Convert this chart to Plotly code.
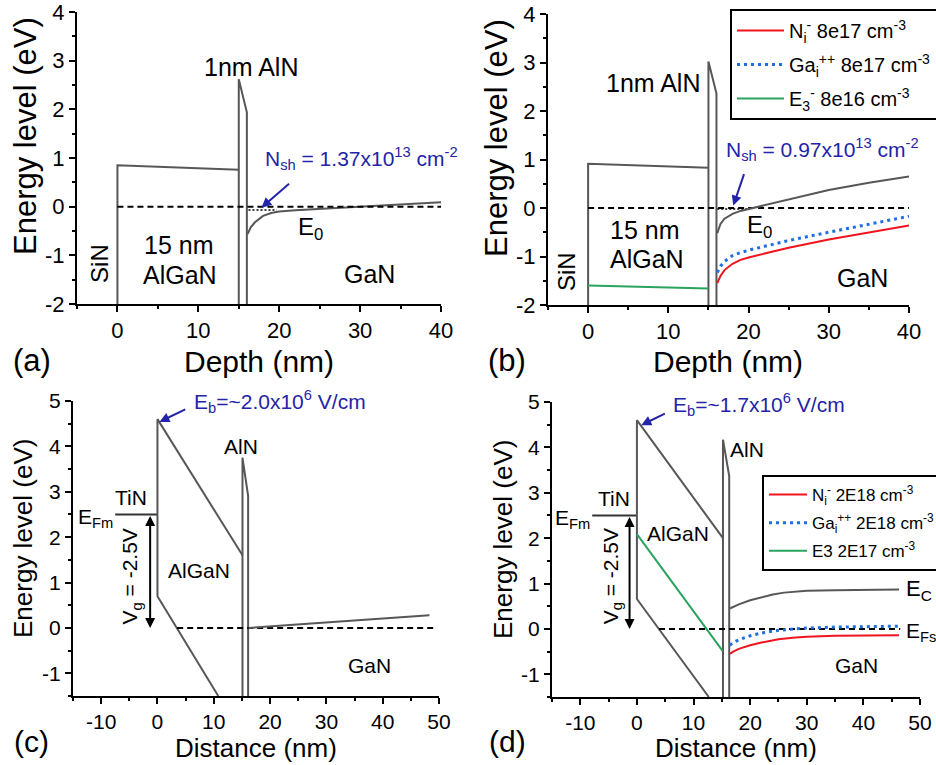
import plotly.graph_objects as go

FONT = "Liberation Sans, Arial, sans-serif"
GRAY = "#575757"
RED = "#f0141e"
BLUE = "#1f6fe0"
GREEN = "#2aa35f"
NAVY = "#2424a8"

# ---------------- data : panel (a) ----------------
a_algan_x = [0, 0, 15]
a_algan_y = [-2, 0.85, 0.76]
a_aln_x = [15, 15, 16, 16]
a_aln_y = [-2, 2.62, 1.94, -2]
a_ec_x = [16.1, 16.5, 17, 17.5, 18, 19, 20, 22, 25, 30, 35, 40]
a_ec_y = [-0.56, -0.42, -0.32, -0.25, -0.19, -0.13, -0.1, -0.075, -0.05, 0.0, 0.045, 0.09]
a_ef_x = [0, 40]
a_ef_y = [0, 0]
a_e0_x = [16.2, 19.7]
a_e0_y = [-0.07, -0.07]

# ---------------- data : panel (b) ----------------
b_algan_x = [0, 0, 15]
b_algan_y = [-2, 0.91, 0.83]
b_aln_x = [15, 15, 16, 16]
b_aln_y = [-2, 3.02, 2.36, -2]
b_ec_x = [16.1, 16.5, 17, 18, 19, 20, 21, 22, 25, 30, 35, 40]
b_ec_y = [-0.52, -0.33, -0.22, -0.12, -0.06, -0.02, 0.01, 0.05, 0.17, 0.37, 0.52, 0.65]
b_gai_x = [16.1, 16.5, 17, 18, 19, 20, 22, 25, 30, 35, 40]
b_gai_y = [-1.33, -1.2, -1.1, -0.98, -0.92, -0.87, -0.79, -0.67, -0.5, -0.33, -0.17]
b_ni_x = [16.1, 16.5, 17, 18, 19, 20, 22, 25, 30, 35, 40]
b_ni_y = [-1.55, -1.4, -1.28, -1.15, -1.07, -1.02, -0.94, -0.82, -0.65, -0.5, -0.36]
b_e3_x = [0, 15]
b_e3_y = [-1.6, -1.66]
b_ef_x = [0, 40]
b_ef_y = [0, 0]
b_e0_x = [16.1, 20.0]
b_e0_y = [-0.02, -0.02]

# ---------------- data : panel (c) ----------------
c_efm_x = [-7.5, 0]
c_efm_y = [2.5, 2.5]
c_algan_x = [10.8, 0, 0, 15.1]
c_algan_y = [-1.5, 0.7, 4.6, 1.6]
c_aln_x = [15.1, 15.1, 16.1, 16.1]
c_aln_y = [-1.5, 3.75, 2.91, -1.5]
c_ec_x = [16.2, 48.3]
c_ec_y = [0.0, 0.28]
c_efs_x = [3.5, 49.6]
c_efs_y = [0, 0]

# ---------------- data : panel (d) ----------------
d_efm_x = [-7.9, 0]
d_efm_y = [2.5, 2.5]
d_algan_x = [12.7, 0, 0, 15.2]
d_algan_y = [-1.5, 0.66, 4.6, 2.0]
d_aln_x = [15.2, 15.2, 16.3, 16.3]
d_aln_y = [-1.5, 4.17, 3.37, -1.5]
d_ec_x = [16.4, 17, 18, 20, 22, 24, 26, 28, 30, 35, 40, 46.3]
d_ec_y = [0.45, 0.49, 0.54, 0.63, 0.7, 0.76, 0.8, 0.82, 0.84, 0.85, 0.86, 0.87]
d_gai_x = [16.4, 17, 18, 20, 22, 25, 28, 30, 35, 40, 46.3]
d_gai_y = [-0.36, -0.3, -0.24, -0.15, -0.09, -0.03, 0.0, 0.02, 0.04, 0.05, 0.06]
d_ni_x = [16.4, 17, 18, 20, 22, 25, 28, 30, 35, 40, 46.3]
d_ni_y = [-0.55, -0.5, -0.44, -0.36, -0.3, -0.23, -0.19, -0.17, -0.15, -0.14, -0.14]
d_e3_x = [0, 15.1]
d_e3_y = [2.09, -0.48]
d_efs_x = [3.9, 46.5]
d_efs_y = [0, 0]

# ---------------- ticks ----------------
top_yticks = [-2, -1, 0, 1, 2, 3, 4]
top_ytext = ["-2", "-1", "0", "1", "2", "3", "4"]
top_xticks = [0, 10, 20, 30, 40]
top_xtext = ["0", "10", "20", "30", "40"]
bot_yticks = [-1, 0, 1, 2, 3, 4, 5]
bot_ytext = ["-1", "0", "1", "2", "3", "4", "5"]
bot_xticks = [-10, 0, 10, 20, 30, 40, 50]
bot_xtext = ["-10", "0", "10", "20", "30", "40", "50"]

fig = go.Figure()


def line(x, y, xa, ya, color=GRAY, width=2, dash=None, name=None, legend=None):
    kw = dict(x=x, y=y, mode="lines", xaxis=xa, yaxis=ya,
              line=dict(color=color, width=width, dash=dash),
              hoverinfo="skip", showlegend=name is not None)
    if name is not None:
        kw["name"] = name
        kw["legend"] = legend
        kw["legendgroup"] = name
    fig.add_trace(go.Scatter(**kw))


# panel a
line(a_algan_x, a_algan_y, "x", "y")
line(a_aln_x, a_aln_y, "x", "y")
line(a_ec_x, a_ec_y, "x", "y")
line(a_ef_x, a_ef_y, "x", "y", color="black", dash="6px,4px")
line(a_e0_x, a_e0_y, "x", "y", color="black", width=1.5, dash="2px,2px")

# panel b
line(b_algan_x, b_algan_y, "x2", "y2")
line(b_aln_x, b_aln_y, "x2", "y2")
line(b_ef_x, b_ef_y, "x2", "y2", color="black", dash="6px,4px")
line(b_e0_x, b_e0_y, "x2", "y2", color="black", width=1.5, dash="2px,2px")
line(b_ec_x, b_ec_y, "x2", "y2")
line(b_ni_x, b_ni_y, "x2", "y2", color=RED, name="N<sub>i</sub><sup>-</sup> 8e17 cm<sup>-3</sup>", legend="legend")
line(b_gai_x, b_gai_y, "x2", "y2", color=BLUE, width=3, dash="3px,4px",
     name="Ga<sub>i</sub><sup>++</sup> 8e17 cm<sup>-3</sup>", legend="legend")
line(b_e3_x, b_e3_y, "x2", "y2", color=GREEN, name="E<sub>3</sub><sup>-</sup> 8e16 cm<sup>-3</sup>", legend="legend")

# panel c
line(c_efm_x, c_efm_y, "x3", "y3", color="#333333")
line(c_algan_x, c_algan_y, "x3", "y3")
line(c_aln_x, c_aln_y, "x3", "y3")
line(c_efs_x, c_efs_y, "x3", "y3", color="black", dash="6px,4px")
line(c_ec_x, c_ec_y, "x3", "y3")

# panel d
line(d_efm_x, d_efm_y, "x4", "y4", color="#333333")
line(d_algan_x, d_algan_y, "x4", "y4")
line(d_aln_x, d_aln_y, "x4", "y4")
line(d_efs_x, d_efs_y, "x4", "y4", color="black", dash="6px,4px")
line(d_ec_x, d_ec_y, "x4", "y4")
line(d_ni_x, d_ni_y, "x4", "y4", color=RED, name="N<sub>i</sub><sup>-</sup> 2E18 cm<sup>-3</sup>", legend="legend2")
line(d_gai_x, d_gai_y, "x4", "y4", color=BLUE, width=3, dash="3px,4px",
     name="Ga<sub>i</sub><sup>++</sup> 2E18 cm<sup>-3</sup>", legend="legend2")
line(d_e3_x, d_e3_y, "x4", "y4", color=GREEN, name="E3 2E17 cm<sup>-3</sup>", legend="legend2")

W, H = 936, 765


def px(xp):
    return xp / W


def py(yp):
    return 1 - yp / H


def axis(domain, rng, tv, tt, anchor, minor_dtick, fsize=22):
    return dict(domain=domain, range=rng, anchor=anchor, tickmode="array",
                tickvals=tv, ticktext=tt, showline=True, linecolor="black",
                linewidth=2, ticks="outside", ticklen=6, tickwidth=2,
                tickcolor="black", showgrid=False, zeroline=False, mirror=False,
                automargin=False, ticklabeloverflow="allow",
                tickfont=dict(size=fsize, color="black", family=FONT),
                minor=dict(tick0=0, dtick=minor_dtick, ticks="outside", ticklen=3,
                           tickwidth=2, tickcolor="black", showgrid=False))


layout = dict(
    width=W, height=H, margin=dict(l=0, r=0, t=0, b=0, pad=0, autoexpand=False),
    paper_bgcolor="white", plot_bgcolor="white",
    font=dict(family=FONT, color="black"),
    xaxis=axis([px(77), px(441)], [-5, 40], top_xticks, top_xtext, "y", 5),
    yaxis=axis([py(304), py(12)], [-2, 4], top_yticks, top_ytext, "x", 0.5),
    xaxis2=axis([px(548), px(909)], [-5, 40], top_xticks, top_xtext, "y2", 5),
    yaxis2=axis([py(305), py(14)], [-2, 4], top_yticks, top_ytext, "x2", 0.5),
    xaxis3=axis([px(73), px(439)], [-15, 50], bot_xticks, bot_xtext, "y3", 5, 21),
    yaxis3=axis([py(696), py(401)], [-1.5, 5], bot_yticks, bot_ytext, "x3", 0.5, 21),
    xaxis4=axis([px(552), px(920)], [-15, 50], bot_xticks, bot_xtext, "y4", 5, 21),
    yaxis4=axis([py(697), py(402)], [-1.5, 5], bot_yticks, bot_ytext, "x4", 0.5, 21),
    legend=dict(x=px(730), y=py(9), xanchor="left", yanchor="top",
                bordercolor="black", borderwidth=2, bgcolor="white",
                font=dict(size=20, family=FONT, color="black"), itemwidth=47,
                tracegroupgap=5),
    legend2=dict(x=px(762), y=py(475), xanchor="left", yanchor="top",
                 bordercolor="black", borderwidth=2, bgcolor="white",
                 font=dict(size=17, family=FONT, color="black"), itemwidth=38,
                 tracegroupgap=3),
)
fig.update_layout(**layout)

ann = []


def text(t, x, y, xr, yr, size=25, color="black", xanchor="center", angle=0):
    ann.append(dict(text=t, x=x, y=y, xref=xr, yref=yr, showarrow=False,
                    xanchor=xanchor, yanchor="middle", textangle=angle,
                    font=dict(size=size, color=color, family=FONT)))


def arrow(x, y, axx, ayy, xr, yr, color=NAVY, both=False):
    d = dict(x=x, y=y, ax=axx, ay=ayy, xref=xr, yref=yr, axref=xr, ayref=yr,
             showarrow=True, arrowhead=2, arrowsize=1, arrowwidth=2,
             arrowcolor=color, text="", standoff=0, startstandoff=0)
    if both:
        d["arrowside"] = "end+start"
        d["startarrowhead"] = 2
        d["startarrowsize"] = 1
    ann.append(d)


# panel (a) texts
text("1nm AlN", 16.5, 2.88, "x", "y")
text("N<sub>sh</sub> = 1.37x10<sup>13</sup> cm<sup>-2</sup>", 18.0, 0.98, "x", "y", size=21, color=NAVY, xanchor="left")
text("E<sub>C</sub>", 40.2, 0.28, "x", "y", size=24, xanchor="left")
text("E<sub>F</sub>", 40.2, -0.3, "x", "y", size=24, xanchor="left")
text("E<sub>0</sub>", 22.1, -0.45, "x", "y", size=24, xanchor="left")
text("15 nm", 7.5, -0.78, "x", "y")
text("AlGaN", 7.7, -1.4, "x", "y")
text("GaN", 31.1, -1.38, "x", "y")
text("SiN", -2.3, -1.16, "x", "y", size=24, angle=-90)
arrow(17.8, -0.02, 21.4, 0.5, "x", "y")

# panel (b) texts
text("1nm AlN", 8.1, 2.57, "x2", "y2")
text("N<sub>sh</sub> = 0.97x10<sup>13</sup> cm<sup>-2</sup>", 17.0, 1.21, "x2", "y2", size=21, color=NAVY, xanchor="left")
text("E<sub>C</sub>", 40.3, 0.62, "x2", "y2", size=24, xanchor="left")
text("E<sub>F</sub>", 40.3, -0.12, "x2", "y2", size=24, xanchor="left")
text("E<sub>0</sub>", 19.6, -0.39, "x2", "y2", size=24, xanchor="left")
text("15 nm", 7.05, -0.45, "x2", "y2")
text("AlGaN", 7.3, -1.06, "x2", "y2")
text("GaN", 34.2, -1.45, "x2", "y2")
text("SiN", -2.7, -1.31, "x2", "y2", size=24, angle=-90)
arrow(18.1, 0.05, 19.5, 0.73, "x2", "y2")

# panel (c) texts
text("E<sub>b</sub>=~2.0x10<sup>6</sup> V/cm", 6.1, 4.98, "x3", "y3", size=21, color=NAVY, xanchor="left")
arrow(0.35, 4.54, 5.2, 4.83, "x3", "y3")
text("AlN", 14.8, 4.0, "x3", "y3", size=21)
text("TiN", -4.66, 2.88, "x3", "y3", size=21)
text("E<sub>Fm</sub>", -7.5, 2.42, "x3", "y3", size=21, xanchor="right")
text("AlGaN", 7.45, 1.26, "x3", "y3", size=21)
text("GaN", 37.7, -0.82, "x3", "y3", size=21)
text("E<sub>C</sub>", 50.4, 0.42, "x3", "y3", size=22, xanchor="left")
text("E<sub>Fs</sub>", 50.4, -0.16, "x3", "y3", size=22, xanchor="left")
text("V<sub>g</sub> = -2.5V", -4.65, 1.14, "x3", "y3", size=21, angle=-90)
arrow(-1.3, 0.0, -1.3, 2.5, "x3", "y3", color="black", both=True)

# panel (d) texts
text("E<sub>b</sub>=~1.7x10<sup>6</sup> V/cm", 6.05, 4.95, "x4", "y4", size=21, color=NAVY, xanchor="left")
arrow(0.76, 4.49, 5.2, 4.76, "x4", "y4")
text("AlN", 19.5, 3.95, "x4", "y4", size=21)
text("TiN", -4.1, 2.88, "x4", "y4", size=21)
text("E<sub>Fm</sub>", -7.9, 2.42, "x4", "y4", size=21, xanchor="right")
text("AlGaN", 7.2, 2.11, "x4", "y4", size=21)
text("GaN", 38.8, -0.8, "x4", "y4", size=21)
text("E<sub>C</sub>", 47.1, 0.85, "x4", "y4", size=22, xanchor="left")
text("E<sub>Fs</sub>", 47.2, -0.06, "x4", "y4", size=21, xanchor="left")
text("V<sub>g</sub> = -2.5V", -4.4, 1.16, "x4", "y4", size=21, angle=-90)
arrow(-1.3, 0.0, -1.3, 2.5, "x4", "y4", color="black", both=True)

# axis titles and panel labels (paper coords)
text("Energy level (eV)", px(25), py(136), "paper", "paper", size=31, angle=-90)
text("Energy level (eV)", px(496), py(138), "paper", "paper", size=31, angle=-90)
text("Energy level (eV)", px(23), py(539), "paper", "paper", size=26, angle=-90)
text("Energy level (eV)", px(503), py(540), "paper", "paper", size=26, angle=-90)
text("Depth (nm)", px(259), py(361), "paper", "paper", size=30)
text("Depth (nm)", px(728), py(361), "paper", "paper", size=30)
text("Distance (nm)", px(256), py(748), "paper", "paper", size=26)
text("Distance (nm)", px(736), py(748), "paper", "paper", size=26)
text("(a)", px(32), py(360), "paper", "paper", size=31)
text("(b)", px(507), py(360), "paper", "paper", size=31)
text("(c)", px(31), py(741), "paper", "paper", size=30)
text("(d)", px(508), py(741), "paper", "paper", size=30)

fig.update_layout(annotations=ann)
fig.write_html("out.html")
